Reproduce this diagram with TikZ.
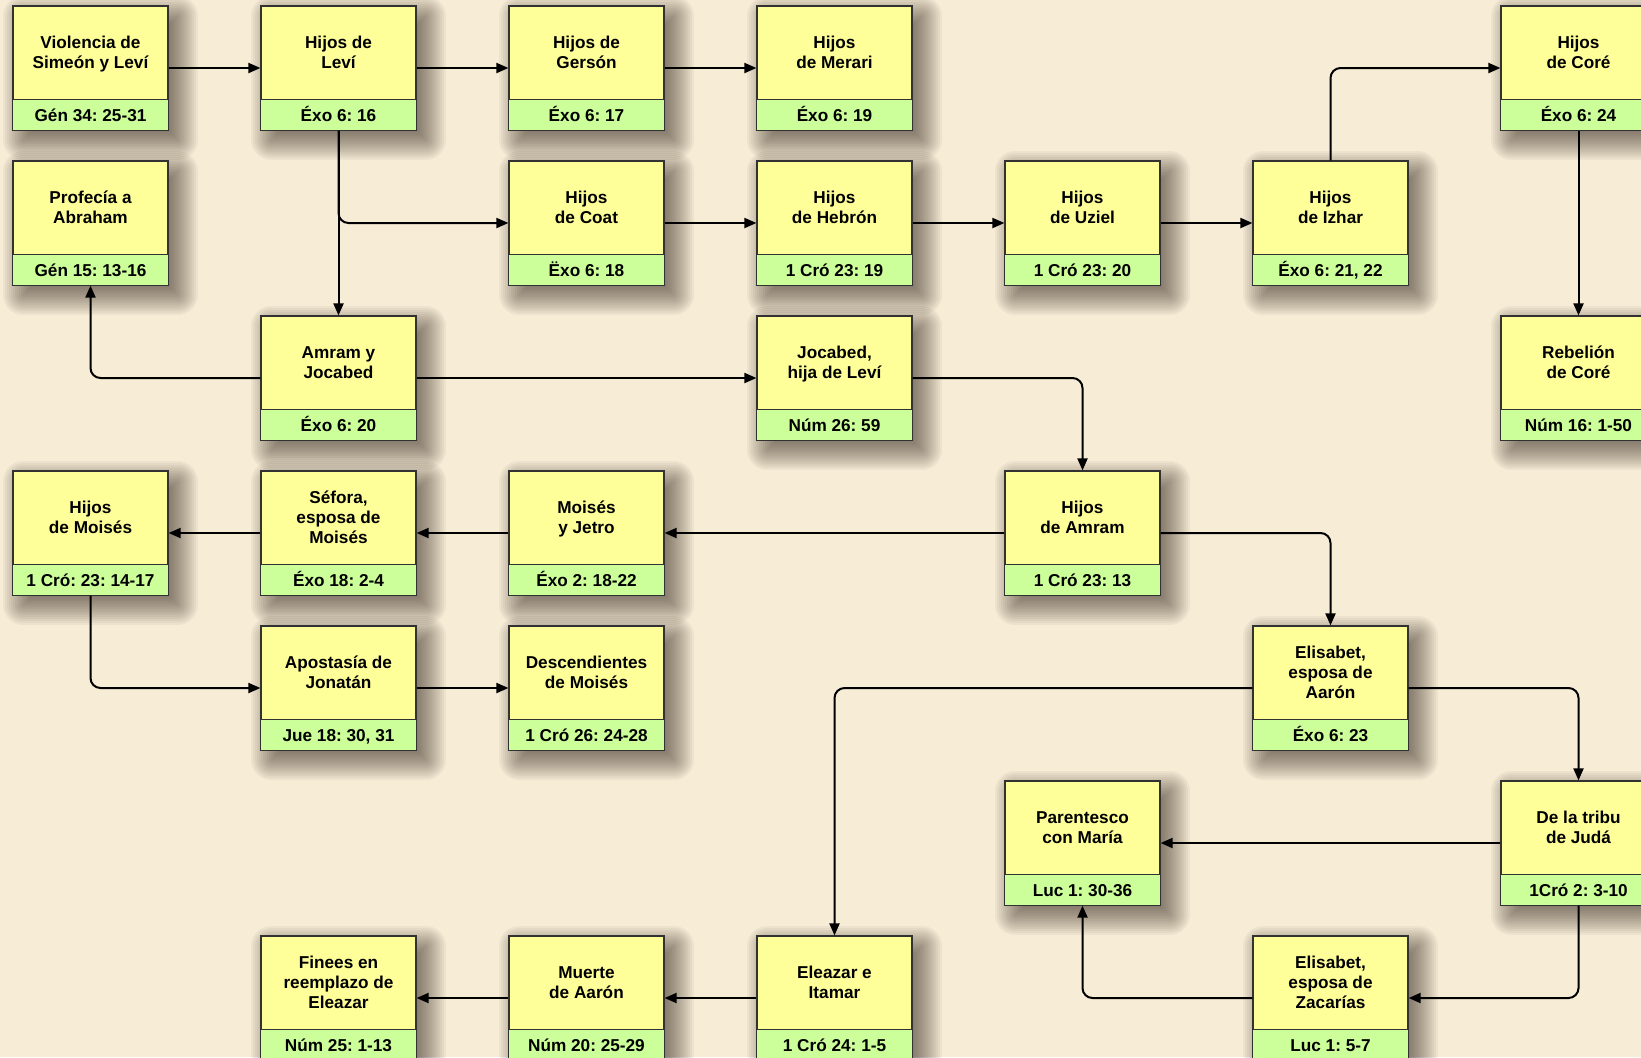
\documentclass[tikz,border=0pt]{standalone}
\usepackage{fontspec}
\setmainfont{Liberation Sans}
\usetikzlibrary{arrows.meta}
\definecolor{bgc}{RGB}{247,236,214}
\definecolor{cardy}{RGB}{255,255,153}
\definecolor{cardg}{RGB}{204,255,153}
\definecolor{edgec}{RGB}{50,50,50}
\frenchspacing
\tikzset{
  card/.style={rectangle, draw=edgec, line width=0.6pt, fill=cardy,
    minimum width=77.5pt, minimum height=62pt, inner sep=0pt},
  shadowlayer/.style={fill=black!85!brown, opacity=0.042},
  greenpart/.style={draw=edgec, line width=0.6pt, fill=cardg},
  cardtitle/.style={font=\fontsize{8.6}{10}\selectfont\bfseries, align=center, inner sep=0pt},
  cardref/.style={font=\fontsize{8.6}{10}\selectfont\bfseries, inner sep=0pt,
    text height=6.2pt, text depth=0pt},
  conn/.style={draw=black, line width=1pt, rounded corners=5pt,
    -{Triangle[length=6pt,width=5pt]}},
}
% #1 name, #2 column, #3 row, #4 title, #5 reference
\newcommand{\mkcard}[5]{%
  \pgfmathsetmacro{\cx}{90.5+248*#2}%
  \pgfmathsetmacro{\cy}{68+155*#3}%
  \foreach \e in {20,18,...,-10}{%
    \fill[shadowlayer, rounded corners={max(\e,0)*0.5pt+0.1pt}]
      ({\cx-77.5+10-\e},{\cy-62+10-\e}) rectangle ({\cx+77.5+10+\e},{\cy+62+10+\e});
  }%
  \node[card] (#1) at (\cx,\cy) {};
  \draw[greenpart] (#1.south west) rectangle ([yshift=15.5pt]#1.south east);
  \node[cardtitle] (#1-t) at ([yshift=6.65pt]#1.center) {\strut #4\strut};
  \node[cardref] (#1-r) at ([yshift=7.75pt]#1.south) {#5};
}
\begin{document}
\begin{tikzpicture}[x=0.5pt,y=-0.5pt]
\useasboundingbox (0,0) rectangle (1641,1057);
\clip (0,0) rectangle (1641,1057);
\fill[bgc] (0,0) rectangle (1641,1057);

\mkcard{violencia}{0}{0}{Violencia de\\Simeón y Leví}{Gén 34: 25-31}
\mkcard{levi}{1}{0}{Hijos de\\Leví}{Éxo 6: 16}
\mkcard{gerson}{2}{0}{Hijos de\\Gersón}{Éxo 6: 17}
\mkcard{merari}{3}{0}{Hijos\\de Merari}{Éxo 6: 19}
\mkcard{core}{6}{0}{Hijos\\de Coré}{Éxo 6: 24}

\mkcard{profecia}{0}{1}{Profecía a\\Abraham}{Gén 15: 13-16}
\mkcard{coat}{2}{1}{Hijos\\de Coat}{Ëxo 6: 18}
\mkcard{hebron}{3}{1}{Hijos\\de Hebrón}{1 Cró 23: 19}
\mkcard{uziel}{4}{1}{Hijos\\de Uziel}{1 Cró 23: 20}
\mkcard{izhar}{5}{1}{Hijos\\de Izhar}{Éxo 6: 21, 22}

\mkcard{amram}{1}{2}{Amram y\\Jocabed}{Éxo 6: 20}
\mkcard{jocabed}{3}{2}{Jocabed,\\hija de Leví}{Núm 26: 59}
\mkcard{rebelion}{6}{2}{Rebelión\\de Coré}{Núm 16: 1-50}

\mkcard{hmoises}{0}{3}{Hijos\\de Moisés}{1 Cró: 23: 14-17}
\mkcard{sefora}{1}{3}{Séfora,\\esposa de\\Moisés}{Éxo 18: 2-4}
\mkcard{jetro}{2}{3}{Moisés\\y Jetro}{Éxo 2: 18-22}
\mkcard{hamram}{4}{3}{Hijos\\de Amram}{1 Cró 23: 13}

\mkcard{apostasia}{1}{4}{Apostasía de\\Jonatán}{Jue 18: 30, 31}
\mkcard{descend}{2}{4}{Descendientes\\de Moisés}{1 Cró 26: 24-28}
\mkcard{elisaaron}{5}{4}{Elisabet,\\esposa de\\Aarón}{Éxo 6: 23}

\mkcard{parentesco}{4}{5}{Parentesco\\con María}{Luc 1: 30-36}
\mkcard{juda}{6}{5}{De la tribu\\de Judá}{1Cró 2: 3-10}

\mkcard{finees}{1}{6}{Finees en\\reemplazo de\\Eleazar}{Núm 25: 1-13}
\mkcard{muerte}{2}{6}{Muerte\\de Aarón}{Núm 20: 25-29}
\mkcard{eleazar}{3}{6}{Eleazar e\\Itamar}{1 Cró 24: 1-5}
\mkcard{elizac}{5}{6}{Elisabet,\\esposa de\\Zacarías}{Luc 1: 5-7}

% connectors
\draw[conn] (violencia.east) -- (levi.west);
\draw[conn] (levi.east) -- (gerson.west);
\draw[conn] (gerson.east) -- (merari.west);
\draw[conn] (levi.south) -- (amram.north);
\draw[conn] (levi.south) |- (coat.west);
\draw[conn] (coat.east) -- (hebron.west);
\draw[conn] (hebron.east) -- (uziel.west);
\draw[conn] (uziel.east) -- (izhar.west);
\draw[conn] (izhar.north) |- (core.west);
\draw[conn] (core.south) -- (rebelion.north);
\draw[conn] (amram.west) -| (profecia.south);
\draw[conn] (amram.east) -- (jocabed.west);
\draw[conn] (jocabed.east) -| (hamram.north);
\draw[conn] (hamram.west) -- (jetro.east);
\draw[conn] (jetro.west) -- (sefora.east);
\draw[conn] (sefora.west) -- (hmoises.east);
\draw[conn] (hmoises.south) |- (apostasia.west);
\draw[conn] (apostasia.east) -- (descend.west);
\draw[conn] (hamram.east) -| (elisaaron.north);
\draw[conn] (elisaaron.west) -| (eleazar.north);
\draw[conn] (elisaaron.east) -| (juda.north);
\draw[conn] (juda.west) -- (parentesco.east);
\draw[conn] (juda.south) |- (elizac.east);
\draw[conn] (elizac.west) -| (parentesco.south);
\draw[conn] (eleazar.west) -- (muerte.east);
\draw[conn] (muerte.west) -- (finees.east);
\end{tikzpicture}
\end{document}
